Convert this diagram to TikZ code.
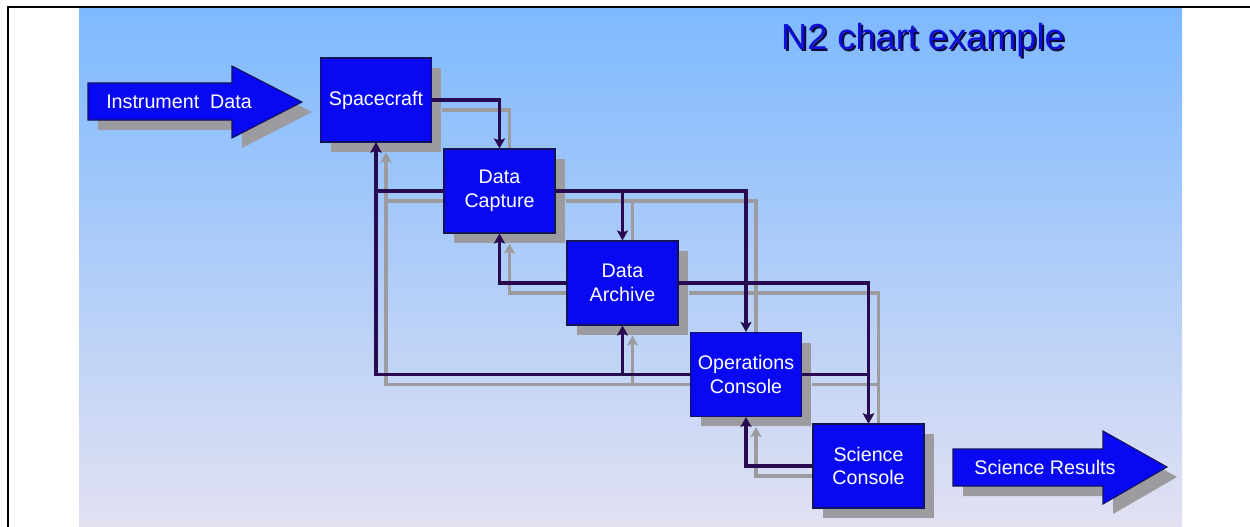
\documentclass[tikz,border=0pt]{standalone}
\usepackage{fontspec}
\setmainfont{Liberation Sans}
\usetikzlibrary{arrows.meta,shadows}
\pgfdeclarelayer{back}
\pgfdeclarelayer{shade}
\pgfsetlayers{back,shade,main}
\definecolor{slidetop}{RGB}{125,185,255}
\definecolor{slidebottom}{RGB}{226,225,242}
\definecolor{boxblue}{RGB}{8,8,242}
\definecolor{boxedge}{RGB}{20,20,90}
\definecolor{linkdark}{RGB}{40,10,80}
\definecolor{shadowgray}{RGB}{155,155,160}
\definecolor{titleblue}{RGB}{15,15,215}
\definecolor{titleshadow}{RGB}{10,10,60}

\begin{document}
\begin{tikzpicture}[
		x=0.02cm,
		y=-0.02cm,
		>={Stealth[length=0.2cm,width=0.22cm,inset=0.04cm]},
		block/.style={
			draw=boxedge,
			line width=0.6pt,
			fill=boxblue,
			text=white,
			align=center,
			minimum width=2.22cm,
			minimum height=1.68cm,
			inner sep=0pt,
			font=\fontsize{11.2}{13.5}\selectfont,
			drop shadow={shadow xshift=0.2cm,shadow yshift=-0.2cm,fill=shadowgray,opacity=1}
		},
		bigarrow/.style={
			draw=boxedge,
			line width=0.6pt,
			fill=boxblue,
			drop shadow={shadow xshift=0.2cm,shadow yshift=-0.2cm,fill=shadowgray,opacity=1}
		},
		arrowtext/.style={
			text=white,
			font=\fontsize{11.2}{13.5}\selectfont
		},
		titletext/.style={
			anchor=base,
			text=titleblue,
			font=\fontsize{20.6}{24}\selectfont
		},
		link/.style={
			->,
			draw=linkdark,
			line width=0.07cm
		},
		linkshade/.style={
			->,
			draw=shadowgray,
			line width=0.07cm,
			transform canvas={xshift=0.2cm,yshift=-0.2cm}
		}
		]
		\useasboundingbox (0,0) rectangle (1250,527);
		\begin{pgfonlayer}{back}
			\shade[top color=slidetop,bottom color=slidebottom] (79,8) rectangle (1182,527);
		\end{pgfonlayer}
		\draw[line width=0.04cm] (8,527) -- (8,7) -- (1250,7);
		
		\node[titletext,text=titleshadow] (ttlshade) at (925,51.3) {N2 chart example};
		\node[titletext] (ttl) at (923,49.3) {N2 chart example};
		
		\filldraw[bigarrow] (88,83) -- (232,83) -- (232,66) -- (302,102) -- (232,138) -- (232,120) -- (88,120) -- cycle;
		\node[arrowtext] (indata) at (179,102) {Instrument\ \ Data};
		\filldraw[bigarrow] (953,449) -- (1103,449) -- (1103,431) -- (1167,467) -- (1103,504) -- (1103,486) -- (953,486) -- cycle;
		\node[arrowtext] (results) at (1045,467) {Science Results};
		
		\node[block] (sc)  at (376,100)   {Spacecraft};
		\node[block] (dc)  at (499.5,191) {Data\\Capture};
		\node[block] (da)  at (622.5,283) {Data\\Archive};
		\node[block] (oc)  at (746,374.5) {Operations\\Console};
		\node[block] (scc) at (868.5,466) {Science\\Console};
		
		\foreach \from/\to in {sc.east/dc.north,dc.west/sc.south,dc.east/da.north,dc.east/oc.north,
			da.west/dc.south,da.east/scc.north,oc.east/scc.north,oc.west/da.south,
			oc.west/sc.south,scc.west/oc.south}{
			\begin{pgfonlayer}{shade}
				\draw[linkshade] (\from) -| (\to);
			\end{pgfonlayer}
			\draw[link] (\from) -| (\to);
		}
		\end{tikzpicture}
\end{document}
